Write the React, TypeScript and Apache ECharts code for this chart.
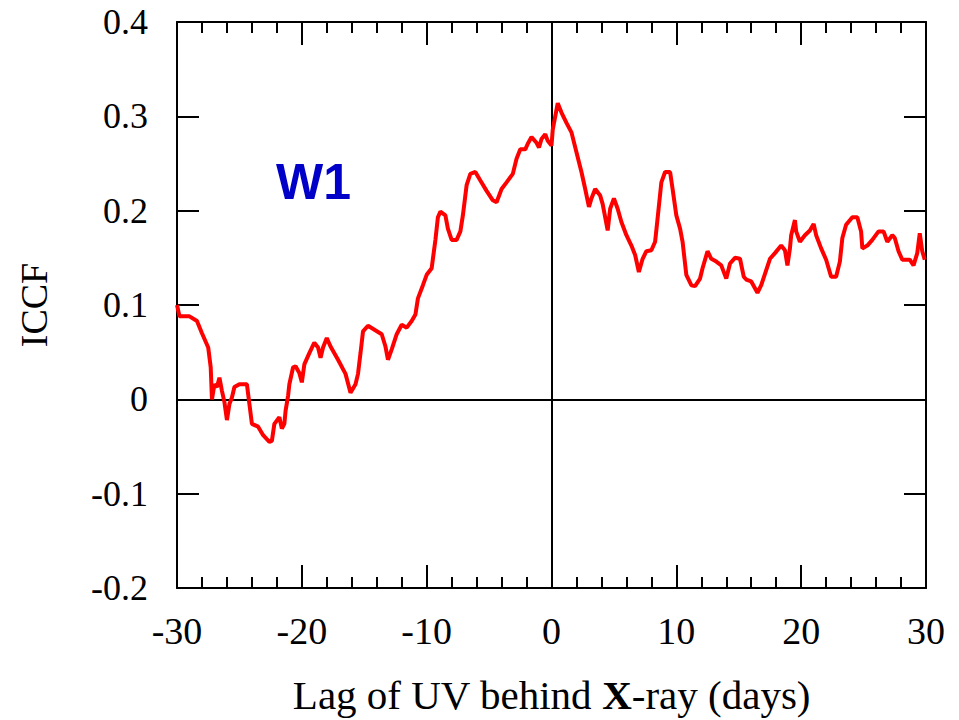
import React, { useEffect, useRef } from "react";
import * as echarts from "echarts";

// Lag of UV behind X-ray (days)
const lagDays: number[] = [
  -30.0, -29.8, -29.0, -28.4, -28.0, -27.5, -27.3, -27.2, -27.0, -26.8,
  -26.6, -26.4, -26.2, -26.0, -25.8, -25.6, -25.4, -25.0, -24.4, -24.2,
  -24.0, -23.5, -23.1, -22.6, -22.4, -22.2, -21.8, -21.6, -21.4, -21.3,
  -21.1, -21.0, -20.7, -20.5, -20.2, -20.0, -19.8, -19.4, -19.0, -18.7,
  -18.5, -18.3, -18.0, -17.7, -17.1, -16.5, -16.1, -15.7, -15.5, -15.3,
  -15.1, -14.7, -13.6, -13.3, -13.1, -12.8, -12.4, -12.0, -11.6, -11.2,
  -10.9, -10.7, -10.3, -10.0, -9.6, -9.3, -9.1, -8.9, -8.5, -8.3,
  -8.0, -7.6, -7.3, -7.1, -6.8, -6.5, -6.1, -5.7, -5.2, -4.7,
  -4.4, -4.0, -3.6, -3.1, -2.8, -2.5, -2.1, -1.9, -1.6, -1.2,
  -1.0, -0.8, -0.5, -0.3, 0.0, 0.1, 0.5, 0.8, 1.2, 1.6,
  2.0, 2.4, 2.7, 3.0, 3.2, 3.5, 3.9, 4.1, 4.5, 4.7,
  5.0, 5.3, 5.6, 6.0, 6.4, 6.7, 7.0, 7.3, 7.6, 8.0,
  8.3, 8.5, 8.8, 9.1, 9.5, 9.7, 10.0, 10.3, 10.5, 10.8,
  11.2, 11.5, 11.9, 12.1, 12.5, 12.8, 13.2, 13.6, 14.0, 14.3,
  14.7, 15.1, 15.4, 15.6, 16.0, 16.5, 16.8, 17.2, 17.5, 17.9,
  18.4, 18.7, 18.9, 19.1, 19.2, 19.5, 19.6, 19.9, 20.3, 20.7,
  21.0, 21.2, 21.6, 22.0, 22.4, 22.8, 23.1, 23.3, 23.6, 24.1,
  24.5, 24.8, 24.9, 25.3, 25.7, 26.2, 26.6, 26.9, 27.3, 27.5,
  27.8, 28.1, 28.7, 29.0, 29.3, 29.5, 29.7, 29.9,
];

// ICCF values
const iccf: number[] = [
  0.100, 0.088, 0.088, 0.083, 0.070, 0.055, 0.034, 0.000, 0.016, 0.013,
  0.023, 0.009, -0.003, -0.022, -0.005, 0.002, 0.013, 0.016, 0.016, -0.005,
  -0.026, -0.029, -0.038, -0.045, -0.044, -0.026, -0.019, -0.031, -0.026, -0.012,
  0.004, 0.016, 0.034, 0.035, 0.028, 0.018, 0.037, 0.049, 0.060, 0.055,
  0.044, 0.055, 0.065, 0.056, 0.042, 0.027, 0.007, 0.016, 0.027, 0.049,
  0.072, 0.078, 0.069, 0.056, 0.042, 0.053, 0.069, 0.079, 0.076, 0.083,
  0.090, 0.107, 0.121, 0.132, 0.139, 0.169, 0.193, 0.199, 0.195, 0.181,
  0.169, 0.169, 0.178, 0.195, 0.227, 0.239, 0.241, 0.232, 0.221, 0.211,
  0.209, 0.223, 0.230, 0.239, 0.255, 0.265, 0.265, 0.271, 0.278, 0.272,
  0.267, 0.276, 0.281, 0.274, 0.269, 0.286, 0.314, 0.304, 0.293, 0.283,
  0.262, 0.241, 0.223, 0.204, 0.213, 0.223, 0.216, 0.207, 0.179, 0.202,
  0.213, 0.202, 0.188, 0.174, 0.163, 0.153, 0.135, 0.149, 0.157, 0.158,
  0.167, 0.192, 0.230, 0.241, 0.241, 0.223, 0.195, 0.181, 0.167, 0.132,
  0.121, 0.120, 0.128, 0.139, 0.157, 0.149, 0.146, 0.142, 0.128, 0.144,
  0.150, 0.149, 0.130, 0.127, 0.125, 0.113, 0.121, 0.137, 0.149, 0.155,
  0.163, 0.158, 0.142, 0.160, 0.174, 0.190, 0.178, 0.167, 0.174, 0.179,
  0.186, 0.174, 0.160, 0.148, 0.130, 0.130, 0.146, 0.171, 0.185, 0.193,
  0.193, 0.178, 0.160, 0.163, 0.169, 0.178, 0.178, 0.167, 0.174, 0.171,
  0.157, 0.148, 0.148, 0.142, 0.155, 0.176, 0.157, 0.148,
];

const xRange: [number, number] = [-30, 30];
const yRange: [number, number] = [-0.2, 0.4];
const xStep = 10;
const yStep = 0.1;
const zeroLag = 0;
const zeroIccf = 0;

const xTitle = "Lag of UV behind {b|X}-ray (days)";
const yTitle = "ICCF";
const bandLabel = "W1";

const SERIF = "'Liberation Serif', 'Times New Roman', serif";

export default function App() {
  const ref = useRef<HTMLDivElement>(null);

  useEffect(() => {
    if (!ref.current) return;
    const chart = echarts.init(ref.current, undefined, { renderer: "svg" });

    const tickStyle = { color: "#000", width: 2 };
    const baseX = {
      type: "value" as const,
      min: xRange[0],
      max: xRange[1],
      interval: xStep,
      splitLine: { show: false },
      axisLine: { show: true, onZero: false, lineStyle: tickStyle },
      axisTick: { show: true, inside: true, length: 23, lineStyle: tickStyle },
      minorTick: { show: true, splitNumber: 5, length: 11, lineStyle: tickStyle },
    };
    const baseY = {
      type: "value" as const,
      min: yRange[0],
      max: yRange[1],
      interval: yStep,
      splitLine: { show: false },
      axisLine: { show: true, onZero: false, lineStyle: tickStyle },
      axisTick: { show: true, inside: true, length: 22, lineStyle: tickStyle },
    };

    const data = lagDays.map((d, i) => [d, iccf[i]]);

    chart.setOption({
      animation: false,
      backgroundColor: "#fff",
      grid: { left: 177, top: 22, width: 749, height: 570, containLabel: false },
      xAxis: [
        {
          ...baseX,
          position: "bottom",
          axisLabel: {
            show: true,
            margin: 24,
            color: "#000",
            fontFamily: SERIF,
            fontSize: 38,
          },
          name: xTitle,
          nameLocation: "middle",
          nameGap: 86,
          nameTextStyle: {
            color: "#000",
            fontFamily: SERIF,
            fontSize: 41,
            rich: {
              b: { fontFamily: SERIF, fontSize: 41, fontWeight: "bold", color: "#000" },
            },
          },
        },
        { ...baseX, position: "top", axisLabel: { show: false } },
      ],
      yAxis: [
        {
          ...baseY,
          position: "left",
          axisLabel: {
            show: true,
            margin: 29,
            color: "#000",
            fontFamily: SERIF,
            fontSize: 36,
            formatter: (v: number) => (Math.abs(v) < 1e-9 ? "0" : v.toFixed(1)),
          },
          name: yTitle,
          nameLocation: "middle",
          nameGap: 124,
          nameTextStyle: { color: "#000", fontFamily: SERIF, fontSize: 38 },
        },
        { ...baseY, position: "right", axisLabel: { show: false } },
      ],
      graphic: [
        {
          type: "text",
          x: 276,
          y: 182,
          style: {
            text: bandLabel,
            fill: "#0000C8",
            font: "bold 50px 'Liberation Sans', Arial, sans-serif",
            align: "left",
            verticalAlign: "middle",
          },
          z: 10,
        },
      ],
      series: [
        {
          type: "line",
          data,
          showSymbol: false,
          symbol: "none",
          lineStyle: { color: "#FF0000", width: 4 },
          z: 5,
          markLine: {
            silent: true,
            symbol: ["none", "none"],
            label: { show: false },
            lineStyle: { color: "#000", width: 2, type: "solid" },
            data: [{ xAxis: zeroLag }, { yAxis: zeroIccf }],
          },
        },
      ],
    });

    return () => chart.dispose();
  }, []);

  return (
    <div
      ref={ref}
      style={{ position: "fixed", left: 0, top: 0, width: 959, height: 720, background: "#fff" }}
    />
  );
}
